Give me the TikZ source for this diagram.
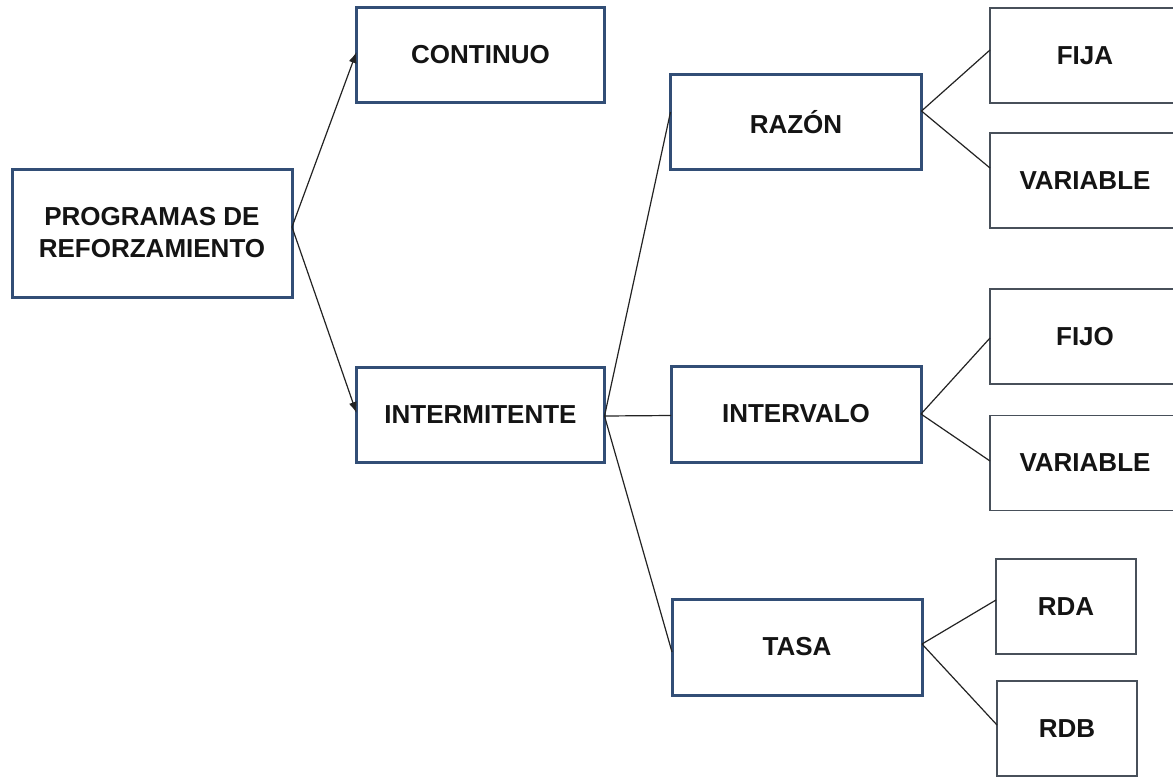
\documentclass[tikz,border=0pt]{standalone}
\usepackage{fontspec}
\setmainfont{Liberation Sans}
\usetikzlibrary{arrows.meta}
\definecolor{mainborder}{RGB}{50,78,118}
\definecolor{leafborder}{RGB}{72,80,90}
\definecolor{linkcol}{RGB}{35,35,35}
\definecolor{textcol}{RGB}{20,20,20}
\tikzset{
  mainbox/.style={draw=mainborder, line width=3pt, fill=white, rectangle, inner sep=0pt, outer sep=0pt,
    minimum height=95pt, text=textcol, font=\fontsize{26pt}{32pt}\selectfont\bfseries, align=center},
  leafbox/.style={draw=leafborder, line width=1.8pt, fill=white, rectangle, inner sep=0pt, outer sep=0pt,
    minimum height=95pt, text=textcol, font=\fontsize{26pt}{32pt}\selectfont\bfseries, align=center},
  link/.style={draw=linkcol, line width=1.2pt},
  arrowlink/.style={link, -{Latex[length=11pt,width=8pt]}}
}
\begin{document}
\begin{tikzpicture}[x=1pt, y=-1pt]
\useasboundingbox (0,0) rectangle (1173,777);
\fill[white] (0,0) rectangle (1173,777);
\clip (0,0) rectangle (1173,777);

\node[mainbox, minimum width=280pt, minimum height=128pt] (prog) at (152,233) {PROGRAMAS DE\\REFORZAMIENTO};
\node[mainbox, minimum width=248pt] (cont) at (480.5,54.5) {CONTINUO};
\node[mainbox, minimum width=248pt] (inter) at (480.5,414.5) {INTERMITENTE};

\node[mainbox, minimum width=251pt] (razon) at (796,122) {RAZÓN};
\node[mainbox, minimum width=250pt, minimum height=96pt] (intervalo) at (796,414) {INTERVALO};
\node[mainbox, minimum width=250pt, minimum height=96pt] (tasa) at (797,647) {TASA};

\node[leafbox, minimum width=190pt] (fija) at (1085,55.5) {FIJA};
\node[leafbox, minimum width=190pt] (var1) at (1085,180.5) {VARIABLE};
\node[leafbox, minimum width=190pt] (fijo) at (1085,336.5) {FIJO};
\node[leafbox, minimum width=190pt] (var2) at (1085,463) {VARIABLE};
\node[leafbox, minimum width=140pt] (rda) at (1066,606.5) {RDA};
\node[leafbox, minimum width=140pt] (rdb) at (1067,728.5) {RDB};

\draw[arrowlink] ([yshift=6pt]prog.east) -- ([yshift=2.5pt]cont.west);
\draw[arrowlink] ([yshift=6pt]prog.east) -- ([yshift=1.5pt]inter.west);

\draw[link] ([yshift=-1.5pt]inter.east) -- ([yshift=10pt]razon.west);
\draw[link] ([yshift=-1.5pt]inter.east) -- ([yshift=-1.5pt]intervalo.west);
\draw[link] ([yshift=-1.5pt]inter.east) -- ([yshift=-5pt]tasa.west);

\draw[link] ([yshift=11pt]razon.east) -- ([yshift=5.5pt]fija.west);
\draw[link] ([yshift=11pt]razon.east) -- ([yshift=12.5pt]var1.west);

\draw[link] (intervalo.east) -- ([yshift=-1.5pt]fijo.west);
\draw[link] (intervalo.east) -- ([yshift=2pt]var2.west);

\draw[link] ([yshift=3pt]tasa.east) -- ([yshift=6.5pt]rda.west);
\draw[link] ([yshift=3pt]tasa.east) -- ([yshift=3.5pt]rdb.west);
\end{tikzpicture}
\end{document}
